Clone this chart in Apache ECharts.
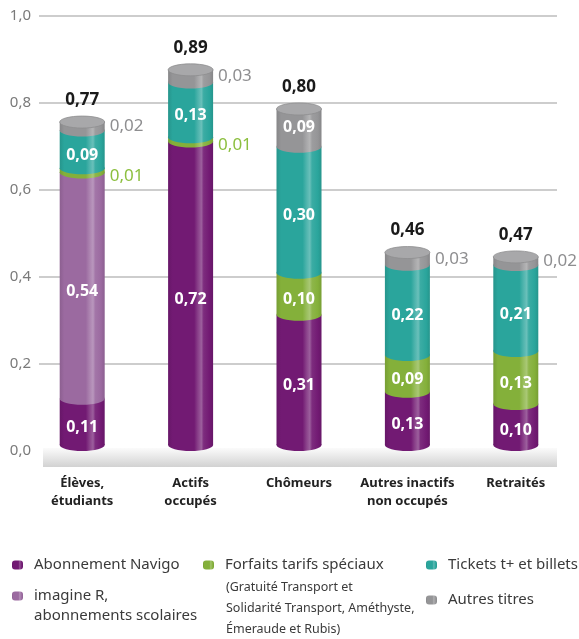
<!DOCTYPE html>
<html>
<head>
<meta charset="utf-8">
<script src="https://cdn.jsdelivr.net/npm/echarts@6/dist/echarts.min.js"></script>
<style>
html, body { margin: 0; padding: 0; background: #fff; }
#chart { width: 579px; height: 639px; }
</style>
</head>
<body>
<div id="chart"></div>
<script>
// catégories (axe x)
const categories = ['Élèves,\nétudiants', 'Actifs\noccupés', 'Chômeurs', 'Autres inactifs\nnon occupés', 'Retraités']
// types de titres, du bas vers le haut de la pile
const seriesNames = ['Abonnement Navigo', 'imagine R,\nabonnements scolaires', 'Forfaits tarifs spéciaux', 'Tickets t+ et billets', 'Autres titres']
const navigo = [0.11, 0.72, 0.31, 0.13, 0.10]
const imagineR = [0.54, 0, 0, 0, 0]
const forfaits = [0.01, 0.01, 0.10, 0.09, 0.13]
const tickets = [0.09, 0.13, 0.30, 0.22, 0.21]
const autres = [0.02, 0.03, 0.09, 0.03, 0.02]
const totals = [0.77, 0.89, 0.80, 0.46, 0.47]
const yTickLabels = ['0,0', '0,2', '0,4', '0,6', '0,8', '1,0']
const forfaitsNote = '(Gratuité Transport et\nSolidarité Transport, Améthyste,\nÉmeraude et Rubis)'

const stack = [navigo, imagineR, forfaits, tickets, autres]
const colors = ['#721a73', '#9b6aa0', '#84b03a', '#2aa59c', '#959597']
const outsideColors = ['#721a73', '#9b6aa0', '#8cbf3f', '#2aa59c', '#8e8e90']

const BAR_W = 45
const RY = 6
const FONT = "'Noto Sans', sans-serif"

function shade(hex, f) {
  const n = parseInt(hex.slice(1), 16)
  const rgb = [(n >> 16) & 255, (n >> 8) & 255, n & 255].map(c =>
    Math.round(f >= 0 ? c + (255 - c) * f : c * (1 + f))
  )
  return 'rgb(' + rgb.join(',') + ')'
}

function cylFill(color) {
  return new echarts.graphic.LinearGradient(0, 0, 1, 0, [
    { offset: 0, color: shade(color, -0.1) },
    { offset: 0.1, color: color },
    { offset: 0.58, color: color },
    { offset: 0.66, color: shade(color, 0.16) },
    { offset: 0.74, color: shade(color, 0.3) },
    { offset: 0.79, color: shade(color, 0.08) },
    { offset: 0.92, color: color },
    { offset: 1, color: shade(color, -0.1) }
  ])
}

const fmt = v => v.toFixed(2).replace('.', ',')

function renderSegment(k) {
  return function (params, api) {
    const i = params.dataIndex
    const v = stack[k][i]
    if (!v) return null
    let base = 0
    let sum = 0
    let topK = 0
    for (let j = 0; j < stack.length; j++) {
      if (j < k) base += stack[j][i]
      sum += stack[j][i]
      if (stack[j][i] > 0) topK = j
    }
    const isTop = k === topK
    const p0 = api.coord([i, 0])
    const x0 = p0[0]
    const y0 = p0[1]
    const yT = api.coord([i, sum])[1]
    // le cylindre va de 0 (bas du fond) au total (haut du couvercle)
    const scale = (y0 - yT - 2 * RY) / sum
    const py = val => y0 - RY - val * scale
    const yb = py(base)
    const yt = py(base + v)
    const left = x0 - BAR_W / 2
    const fill = cylFill(colors[k])
    const children = [
      { type: 'rect', shape: { x: left, y: yt, width: BAR_W, height: yb - yt }, style: { fill: fill } },
      { type: 'ellipse', shape: { cx: x0, cy: yb, rx: BAR_W / 2, ry: RY }, style: { fill: fill } }
    ]
    if (isTop) {
      children.push({
        type: 'ellipse',
        shape: { cx: x0, cy: yt, rx: BAR_W / 2, ry: RY },
        style: { fill: shade(colors[k], 0.18), stroke: shade(colors[k], -0.05), lineWidth: 0.8 }
      })
      children.push({
        type: 'text',
        style: {
          x: x0, y: yT - 16, text: fmt(totals[i]), fill: '#1a1a1a',
          font: 'bold 17px ' + FONT, align: 'center', verticalAlign: 'middle'
        }
      })
    }
    const ly = (yt + yb) / 2 + (isTop ? 0 : RY)
    if (v >= 0.05) {
      children.push({
        type: 'text',
        style: {
          x: x0, y: ly, text: fmt(v), fill: '#fff',
          font: 'bold 16px ' + FONT, align: 'center', verticalAlign: 'middle'
        }
      })
    } else {
      children.push({
        type: 'text',
        style: {
          x: left + BAR_W + 5, y: ly, text: fmt(v), fill: outsideColors[k],
          font: '17px ' + FONT, align: 'left', verticalAlign: 'middle'
        }
      })
    }
    return { type: 'group', children: children }
  }
}

// légende dessinée à la main (disposition en trois colonnes)
const legendPos = [
  { x: 12, y: 565 },
  { x: 12, y: 596 },
  { x: 203, y: 565 },
  { x: 426, y: 565 },
  { x: 426, y: 600 }
]
const legendGraphics = []
seriesNames.forEach((name, k) => {
  const p = legendPos[k]
  legendGraphics.push({
    type: 'rect',
    shape: { x: p.x, y: p.y - 4.5, width: 11, height: 9, r: 3 },
    style: { fill: cylFill(colors[k]) },
    z: 10
  })
  legendGraphics.push({
    type: 'text',
    style: {
      x: p.x + 22, y: p.y - 10, text: name, fill: '#3a3a3a',
      font: '15px ' + FONT, lineHeight: 20, verticalAlign: 'top'
    },
    z: 10
  })
})
legendGraphics.push({
  type: 'text',
  style: {
    x: 226, y: 577, text: forfaitsNote, fill: '#3a3a3a',
    font: '12.5px ' + FONT, lineHeight: 21, verticalAlign: 'top'
  },
  z: 10
})
// socle grisé sous les cylindres
legendGraphics.push({
  type: 'rect',
  shape: { x: 43, y: 448, width: 514, height: 19 },
  style: {
    fill: new echarts.graphic.LinearGradient(0, 0, 0, 1, [
      { offset: 0, color: '#fbfbfb' },
      { offset: 1, color: '#d2d2d2' }
    ])
  },
  z: 1
})

const chart = echarts.init(document.getElementById('chart'))
chart.setOption({
  backgroundColor: '#fff',
  animation: false,
  grid: [
    { left: 39, right: 22, top: 16, bottom: 188 },
    { left: 28, right: 9, top: 16, bottom: 188 }
  ],
  xAxis: [
    { type: 'value', gridIndex: 0, show: false },
    {
      type: 'category',
      gridIndex: 1,
      data: categories,
      axisLine: { show: false },
      axisTick: { show: false },
      axisLabel: {
        interval: 0,
        margin: 23,
        color: '#222',
        fontWeight: 'bold',
        fontSize: 13,
        lineHeight: 18,
        fontFamily: FONT
      }
    }
  ],
  yAxis: [
    {
      type: 'value',
      gridIndex: 0,
      min: 0,
      max: 1,
      interval: 0.2,
      axisLine: { show: false },
      axisTick: { show: false },
      axisLabel: {
        formatter: (v, idx) => yTickLabels[idx],
        color: '#7a7a7a',
        fontSize: 15,
        fontFamily: FONT,
        margin: 8,
        padding: [8, 0, 0, 0]
      },
      splitLine: { showMinLine: false, lineStyle: { color: '#bcbcbc', width: 1.5 } }
    },
    { type: 'value', gridIndex: 1, min: 0, max: 1, show: false }
  ],
  graphic: legendGraphics,
  series: stack.map((vals, k) => ({
    name: seriesNames[k],
    type: 'custom',
    xAxisIndex: 1,
    yAxisIndex: 1,
    clip: false,
    z: 5,
    renderItem: renderSegment(k),
    data: vals.map((v, i) => [i, v])
  }))
})
</script>
</body>
</html>
